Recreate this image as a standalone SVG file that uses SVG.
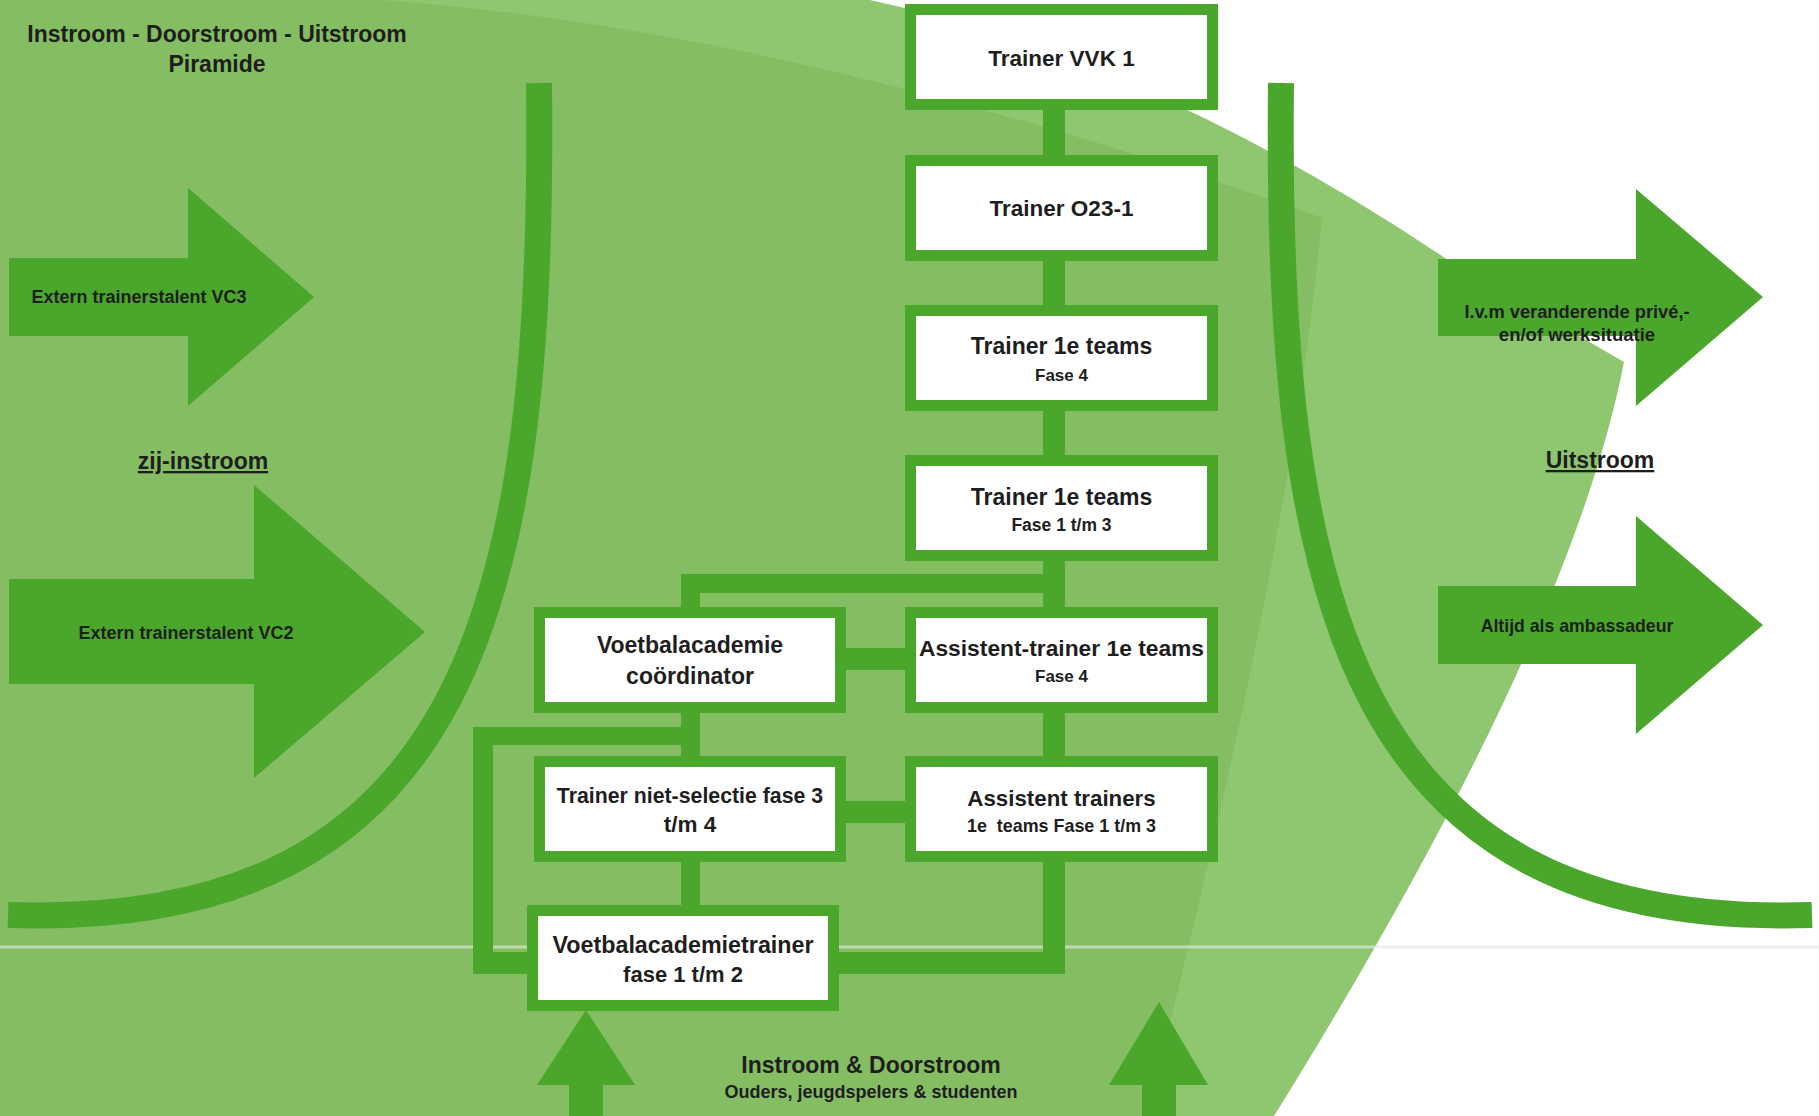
<svg xmlns="http://www.w3.org/2000/svg" width="1819" height="1116" viewBox="0 0 1819 1116">
<style>
.box{fill:#ffffff;stroke:#4aa72b;stroke-width:11}
.bar{fill:#4aa72b}
.arrow{fill:#4aa72b}
.curve{fill:none;stroke:#4aa72b;stroke-width:26;stroke-linecap:butt}
text{font-family:"Liberation Sans",Arial,sans-serif;font-weight:bold;fill:#1e1e1e;text-anchor:middle}
.ul{text-decoration:underline}
</style>
<rect x="0" y="0" width="1819" height="1116" fill="#ffffff"/>
<g id="background">
<path d="M0 0 L870 0 Q1150 60 1445 258 L1624 362 Q1570 640 1274 1116 L0 1116 Z" fill="#8fc670"/>
<path d="M0 0 L380 0 Q800 30 1322 218 Q1290 560 1146 1116 L0 1116 Z" fill="#85bd63"/>
<line x1="0" y1="947" x2="1819" y2="947" stroke="#e2e8e0" stroke-width="3" opacity="0.65"/>
</g>
<g id="curves">
<path class="curve" d="M539 83 C545 600 470 930 8 915"/>
<path class="curve" d="M1281 83 C1275 600 1350 930 1812 915"/>
</g>
<g id="title">
<text x="217" y="42" font-size="23">Instroom - Doorstroom - Uitstroom</text>
<text x="217" y="72" font-size="23">Piramide</text>
</g>
<g id="arrow-vc3">
<polygon class="arrow" points="9,258 188,258 188,188 314,297 188,406 188,336 9,336"/>
<text x="139" y="303" font-size="18">Extern trainerstalent VC3</text>
</g>
<g id="label-zij-instroom">
<text class="ul" x="203" y="469" font-size="23">zij-instroom</text>
</g>
<g id="arrow-vc2">
<polygon class="arrow" points="9,579 254,579 254,485 425,632 254,778 254,684 9,684"/>
<text x="186" y="639" font-size="18">Extern trainerstalent VC2</text>
</g>
<g id="arrow-uit1">
<polygon class="arrow" points="1438,259 1636,259 1636,189 1763,297 1636,406 1636,336 1438,336"/>
<text x="1577" y="318" font-size="18.3">I.v.m veranderende privé,-</text>
<text x="1577" y="341" font-size="18.5">en/of werksituatie</text>
</g>
<g id="label-uitstroom">
<text class="ul" x="1600" y="468" font-size="23">Uitstroom</text>
</g>
<g id="arrow-uit2">
<polygon class="arrow" points="1438,586 1636,586 1636,516 1763,625 1636,734 1636,664 1438,664"/>
<text x="1577" y="632" font-size="17.7">Altijd als ambassadeur</text>
</g>
<g id="arrows-up">
<polygon class="arrow" points="569,1116 569,1085 537,1085 586,1010 635,1085 603,1085 603,1116"/>
<polygon class="arrow" points="1142,1116 1142,1085 1109,1085 1159,1002 1208,1085 1176,1085 1176,1116"/>
</g>
<g id="label-instroom">
<text x="871" y="1073" font-size="23">Instroom &amp; Doorstroom</text>
<text x="871" y="1098" font-size="18">Ouders, jeugdspelers &amp; studenten</text>
</g>
<g id="connectors">
<rect class="bar" x="1043" y="100" width="22" height="874"/>
<rect class="bar" x="681" y="574" width="384" height="19"/>
<rect class="bar" x="681" y="574" width="19" height="336"/>
<rect class="bar" x="840" y="648" width="70" height="22"/>
<rect class="bar" x="840" y="801" width="70" height="22"/>
<rect class="bar" x="473" y="727" width="227" height="18"/>
<rect class="bar" x="473" y="727" width="20" height="247"/>
<rect class="bar" x="473" y="952" width="60" height="22"/>
<rect class="bar" x="833" y="952" width="232" height="22"/>
</g>
<g id="node-vvk1">
<rect class="box" x="910.5" y="9.5" width="302" height="95"/>
<text x="1061.5" y="66" font-size="22.5">Trainer VVK 1</text>
</g>
<g id="node-o23">
<rect class="box" x="910.5" y="160.5" width="302" height="95"/>
<text x="1061.5" y="216" font-size="22.5">Trainer O23-1</text>
</g>
<g id="node-1e-fase4">
<rect class="box" x="910.5" y="310.5" width="302" height="95"/>
<text x="1061.5" y="354" font-size="23">Trainer 1e teams</text>
<text x="1061.5" y="381" font-size="17">Fase 4</text>
</g>
<g id="node-1e-fase13">
<rect class="box" x="910.5" y="460.5" width="302" height="95"/>
<text x="1061.5" y="505" font-size="23">Trainer 1e teams</text>
<text x="1061.5" y="531" font-size="17.5">Fase 1 t/m 3</text>
</g>
<g id="node-assistent-fase4">
<rect class="box" x="910.5" y="612.5" width="302" height="95"/>
<text x="1061.5" y="656" font-size="22.8">Assistent-trainer 1e teams</text>
<text x="1061.5" y="682" font-size="17">Fase 4</text>
</g>
<g id="node-assistent-trainers">
<rect class="box" x="910.5" y="761.5" width="302" height="95"/>
<text x="1061.5" y="806" font-size="22.3">Assistent trainers</text>
<text x="1061.5" y="832" font-size="17.9" xml:space="preserve">1e  teams Fase 1 t/m 3</text>
</g>
<g id="node-va-coordinator">
<rect class="box" x="539.5" y="612.5" width="301" height="95"/>
<text x="690" y="653" font-size="23">Voetbalacademie</text>
<text x="690" y="684" font-size="23">coördinator</text>
</g>
<g id="node-niet-selectie">
<rect class="box" x="539.5" y="761.5" width="301" height="95"/>
<text x="690" y="803" font-size="21.3">Trainer niet-selectie fase 3</text>
<text x="690" y="832" font-size="22.5">t/m 4</text>
</g>
<g id="node-va-trainer">
<rect class="box" x="532.5" y="910.5" width="301" height="95"/>
<text x="683" y="953" font-size="23.3">Voetbalacademietrainer</text>
<text x="683" y="982" font-size="22">fase 1 t/m 2</text>
</g>
</svg>
